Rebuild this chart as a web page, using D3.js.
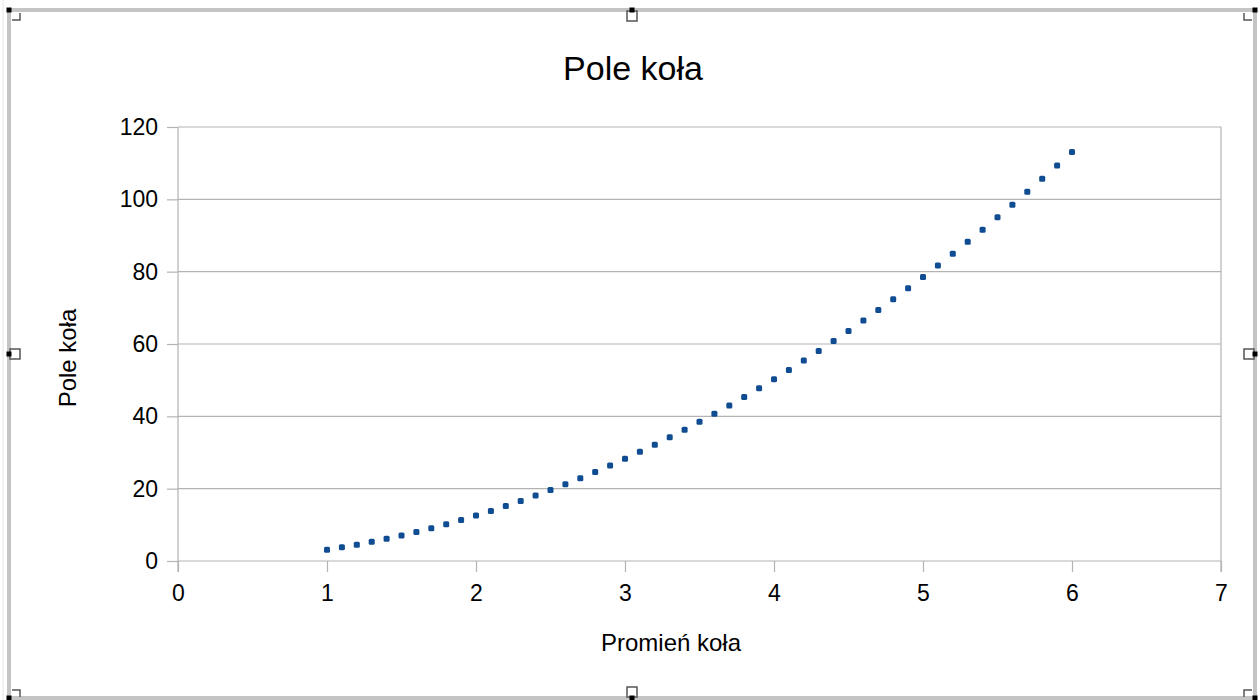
<!DOCTYPE html>
<html><head><meta charset="utf-8">
<script src="https://cdn.jsdelivr.net/npm/d3@7"></script>
<style>html,body{margin:0;padding:0;background:#fff;}svg{display:block;font-family:"Liberation Sans",Arial,sans-serif;}</style>
</head><body>
<svg id="c" width="1260" height="700"></svg>
<script>
const chartTitle = "Pole koła";
const xTitle = "Promień koła";
const yTitle = "Pole koła";
const radii = [1.0,1.1,1.2,1.3,1.4,1.5,1.6,1.7,1.8,1.9,2.0,2.1,2.2,2.3,2.4,2.5,2.6,2.7,2.8,2.9,3.0,3.1,3.2,3.3,3.4,3.5,3.6,3.7,3.8,3.9,4.0,4.1,4.2,4.3,4.4,4.5,4.6,4.7,4.8,4.9,5.0,5.1,5.2,5.3,5.4,5.5,5.6,5.7,5.8,5.9,6.0];
const areas = [3.14,3.80,4.52,5.31,6.16,7.07,8.04,9.08,10.18,11.34,12.57,13.85,15.21,16.62,18.10,19.63,21.24,22.90,24.63,26.42,28.27,30.19,32.17,34.21,36.32,38.48,40.72,43.01,45.36,47.78,50.27,52.81,55.42,58.09,60.82,63.62,66.48,69.40,72.38,75.43,78.54,81.71,84.95,88.25,91.61,95.03,98.52,102.07,105.68,109.36,113.10];
const xTicks = [0,1,2,3,4,5,6,7];
const yTicks = [0,20,40,60,80,100,120];

const svg = d3.select("#c");
const L = 178, R = 1221, T = 127, B = 561;
const x = d3.scaleLinear().domain([0,7]).range([L,R]);
const y = d3.scaleLinear().domain([0,120]).range([B,T]);
const grid = "#b3b3b3";

// outer frame (selection)
svg.append("line").attr("x1",3).attr("x2",3).attr("y1",0).attr("y2",700).attr("stroke","#e6e6e6").attr("stroke-width",1);
svg.append("rect").attr("x",9).attr("y",10).attr("width",1246).attr("height",688)
  .attr("fill","none").attr("stroke","#c4c4c4").attr("stroke-width",4);

// gridlines
svg.append("g").selectAll("line").data(yTicks).join("line")
  .attr("x1",L).attr("x2",R).attr("y1",d=>y(d)).attr("y2",d=>y(d))
  .attr("stroke",grid).attr("stroke-width",1.2);
svg.append("line").attr("x1",L).attr("x2",L).attr("y1",T).attr("y2",B+11).attr("stroke",grid).attr("stroke-width",1.2);
svg.append("line").attr("x1",R).attr("x2",R).attr("y1",T).attr("y2",B+11).attr("stroke",grid).attr("stroke-width",1.2);

// axes
const xAxis = svg.append("g").attr("transform",`translate(0,${B})`)
  .call(d3.axisBottom(x).tickValues(xTicks).tickSize(11).tickPadding(13).tickFormat(d3.format("d")));
const yAxis = svg.append("g").attr("transform",`translate(${L},0)`)
  .call(d3.axisLeft(y).tickValues(yTicks).tickSize(11).tickPadding(9).tickFormat(d3.format("d")));
[xAxis,yAxis].forEach(a=>{
  a.select(".domain").remove();
  a.selectAll(".tick line").attr("stroke",grid).attr("stroke-width",1.2);
  a.selectAll(".tick text").attr("fill","#000").style("font-size","23px").style("font-family","'Liberation Sans',Arial,sans-serif");
});

// titles
svg.append("text").attr("x",633).attr("y",80).attr("text-anchor","middle").style("font-size","34px").attr("fill","#000").text(chartTitle);
svg.append("text").attr("x",671).attr("y",651).attr("text-anchor","middle").style("font-size","24px").attr("fill","#000").text(xTitle);
svg.append("text").attr("transform","translate(76,358) rotate(-90)").attr("text-anchor","middle").style("font-size","24px").attr("fill","#000").text(yTitle);

// points
const data = radii.map((r,i)=>({r, a: areas[i]}));
svg.append("g").selectAll("rect").data(data).join("rect")
  .attr("x",d=>x(d.r)-3).attr("y",d=>y(d.a)-3).attr("width",6).attr("height",6).attr("rx",1.5)
  .attr("fill","#0f4c91");

// handles
const hs = [[9,10],[1255,10],[9,698],[1255,698],[632,10],[9,354],[1255,354],[632,698]];
const open = [[632,16],[15,354],[1249,354],[632,692]];
open.forEach(([cx,cy])=>{
  svg.append("rect").attr("x",cx-5).attr("y",cy-5).attr("width",10).attr("height",10)
    .attr("fill","#fff").attr("stroke","#555").attr("stroke-width",1.5);
});
svg.append("path").attr("d","M12,20 L20,20 L20,13").attr("fill","none").attr("stroke","#555").attr("stroke-width",1.5);
svg.append("path").attr("d","M1252,20 L1244,20 L1244,13").attr("fill","none").attr("stroke","#555").attr("stroke-width",1.5);
svg.append("path").attr("d","M12,690 L20,690 L20,697").attr("fill","none").attr("stroke","#555").attr("stroke-width",1.5);
svg.append("path").attr("d","M1252,690 L1244,690 L1244,697").attr("fill","none").attr("stroke","#555").attr("stroke-width",1.5);
hs.forEach(([cx,cy])=>{
  svg.append("rect").attr("x",cx-2.5).attr("y",cy-2.5).attr("width",5).attr("height",5).attr("fill","#000");
});
</script>
</body></html>
